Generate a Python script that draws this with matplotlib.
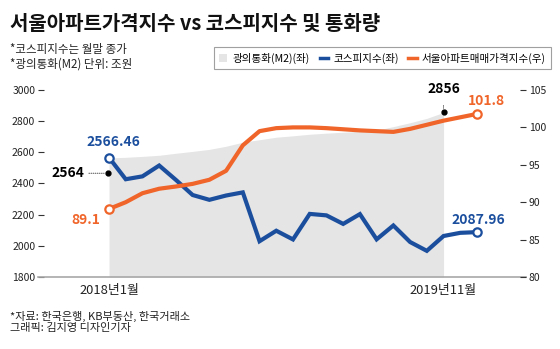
import matplotlib
matplotlib.use('Agg')
import matplotlib.pyplot as plt
import matplotlib.transforms as mtransforms
from matplotlib.patches import Patch
from matplotlib.lines import Line2D

plt.rcParams['font.family'] = ['Noto Sans CJK KR', 'DejaVu Sans']

# 2018.01 ~ 2019.11 (monthly)
months = list(range(23))
kospi = [2566.46, 2427.36, 2445.85, 2515.38, 2423.01, 2326.13, 2295.26, 2322.88,
         2343.07, 2029.69, 2096.86, 2041.04, 2204.85, 2195.44, 2140.67, 2203.59,
         2041.74, 2130.62, 2024.55, 1967.79, 2063.05, 2083.48, 2087.96]
apt_index = [89.1, 90.0, 91.2, 91.8, 92.1, 92.45, 93.0, 94.2, 97.6, 99.5, 99.9,
             100.0, 100.0, 99.9, 99.75, 99.6, 99.5, 99.4, 99.8, 100.35, 100.9,
             101.35, 101.8]
# M2 available up to 2019.09
m2_months = list(range(21))
m2 = [2564, 2568, 2574, 2581, 2594, 2606, 2619, 2639, 2665, 2681, 2697, 2706,
      2716, 2723, 2729, 2735, 2742, 2765, 2790, 2818, 2856]

left_ticks = [1800, 2000, 2200, 2400, 2600, 2800, 3000]
right_ticks = [80, 85, 90, 95, 100, 105]
x_labels = ['2018년1월', '2019년11월']

BLUE = '#1b4f9e'
ORANGE = '#f0652a'
GRAY = '#e5e5e5'

fig = plt.figure(figsize=(5.6, 3.49), dpi=100)
fig.patch.set_facecolor('white')
ax = fig.add_axes([38 / 560, 72 / 349, 488 / 560, 187 / 349])
ax2 = ax.twinx()

ax.fill_between(m2_months, 1800, m2, color=GRAY, lw=0, zorder=1)
ax.plot(months, kospi, color=BLUE, lw=3.0, solid_joinstyle='miter', zorder=3)
ax.plot([months[0], months[-1]], [kospi[0], kospi[-1]], ls='none', marker='o',
        ms=6, mfc='white', mec=BLUE, mew=1.6, zorder=4)
ax2.plot(months, apt_index, color=ORANGE, lw=3.0, zorder=3)
ax2.plot([months[0], months[-1]], [apt_index[0], apt_index[-1]], ls='none',
         marker='o', ms=6, mfc='white', mec=ORANGE, mew=1.6, zorder=4)

ax.set_xlim(-4.245, 24.93)
ax.set_ylim(1800, 3000)
ax2.set_ylim(80, 105)
ax.set_yticks(left_ticks)
ax2.set_yticks(right_ticks)
for a in (ax, ax2):
    for s in ('top', 'left', 'right', 'bottom'):
        a.spines[s].set_visible(False)
ax.spines['bottom'].set_visible(True)
ax.spines['bottom'].set_color('#a8a8a8')
ax.spines['bottom'].set_linewidth(1.2)
ax.tick_params(axis='y', direction='in', length=4, width=0.8, color='#333333',
               labelsize=7.5, pad=2, labelcolor='#222222')
ax2.tick_params(axis='y', direction='in', length=4, width=0.8, color='#333333',
                labelsize=7.5, pad=2, labelcolor='#222222')
ax.set_xticks([months[0], months[-1]])
ax.set_xticklabels(x_labels, fontsize=9.3, color='#222222')
ax.tick_params(axis='x', length=0, pad=5)
ax.get_xticklabels()[1].set_ha('right')

# end-point values
ax.annotate(f'{kospi[0]:.2f}', (months[0], kospi[0]), xytext=(3, 11.5),
            textcoords='offset points', ha='center', va='center',
            fontsize=10, fontweight='bold', color=BLUE)
ax.annotate(f'{kospi[-1]:.2f}', (months[-1], kospi[-1]), xytext=(1, 9),
            textcoords='offset points', ha='center', va='center',
            fontsize=10, fontweight='bold', color=BLUE)
ax2.annotate(f'{apt_index[0]}', (months[0], apt_index[0]), xytext=(-6.5, -8),
             textcoords='offset points', ha='right', va='center',
             fontsize=10, fontweight='bold', color=ORANGE)
ax2.annotate(f'{apt_index[-1]}', (months[-1], apt_index[-1]), xytext=(6.5, 9.5),
             textcoords='offset points', ha='center', va='center',
             fontsize=10, fontweight='bold', color=ORANGE)

# M2 start / end markers
low = mtransforms.offset_copy(ax.transData, fig=fig, x=-0.5, y=-11, units='points')
ax2.plot([m2_months[0]], [m2[0]], 'o', color='black', ms=3.5, transform=low, zorder=5)
ax.annotate(f'{m2[0]}', (m2_months[0], m2[0]), xycoords=low, xytext=(-17, 0),
            textcoords='offset points', ha='right', va='center', fontsize=10,
            fontweight='bold', color='black',
            arrowprops=dict(arrowstyle='-', ls=(0, (1, 1.5)), lw=0.6,
                            color='#333333', shrinkA=1, shrinkB=3))
ax2.plot([m2_months[-1]], [m2[-1]], 'o', color='black', ms=3.5,
         transform=ax.transData, zorder=5)
ax.annotate(f'{m2[-1]}', (m2_months[-1], m2[-1]), xytext=(0, 17),
            textcoords='offset points', ha='center', va='center', fontsize=10,
            fontweight='bold', color='black', annotation_clip=False,
            arrowprops=dict(arrowstyle='-', ls=(0, (1, 1.5)), lw=0.6,
                            color='#333333', shrinkA=5, shrinkB=3))

# legend
handles = [Patch(facecolor=GRAY, edgecolor='none'),
           Line2D([], [], color=BLUE, lw=2.5),
           Line2D([], [], color=ORANGE, lw=2.5)]
labels = ['광의통화(M2)(좌)', '코스피지수(좌)', '서울아파트매매가격지수(우)']
leg = fig.legend(handles, labels, ncol=3, loc='center', bbox_to_anchor=(382.5 / 560, 1 - 58 / 349),
                 fontsize=7.6, frameon=True, fancybox=False, handlelength=0.8,
                 handleheight=0.8, handletextpad=0.5, columnspacing=0.9,
                 borderpad=0.5)
leg.get_frame().set_edgecolor('#888888')
leg.get_frame().set_linewidth(0.8)

# titles and notes
fig.text(10 / 560, 1 - 24 / 349, '서울아파트가격지수 vs 코스피지수 및 통화량',
         fontsize=14.4, fontweight='bold', color='#111111', va='center')
fig.text(10 / 560, 1 - 49 / 349, '*코스피지수는 월말 종가', fontsize=8.3, va='center', color='#222222')
fig.text(10 / 560, 1 - 64 / 349, '*광의통화(M2) 단위: 조원', fontsize=8.3, va='center', color='#222222')
fig.text(10 / 560, 1 - 316 / 349, '*자료: 한국은행, KB부동산, 한국거래소', fontsize=8, va='center', color='#222222')
fig.text(10 / 560, 1 - 328 / 349, '그래픽: 김지영 디자인기자', fontsize=8, va='center', color='#222222')

fig.savefig('out.png', dpi=100, facecolor='white')
